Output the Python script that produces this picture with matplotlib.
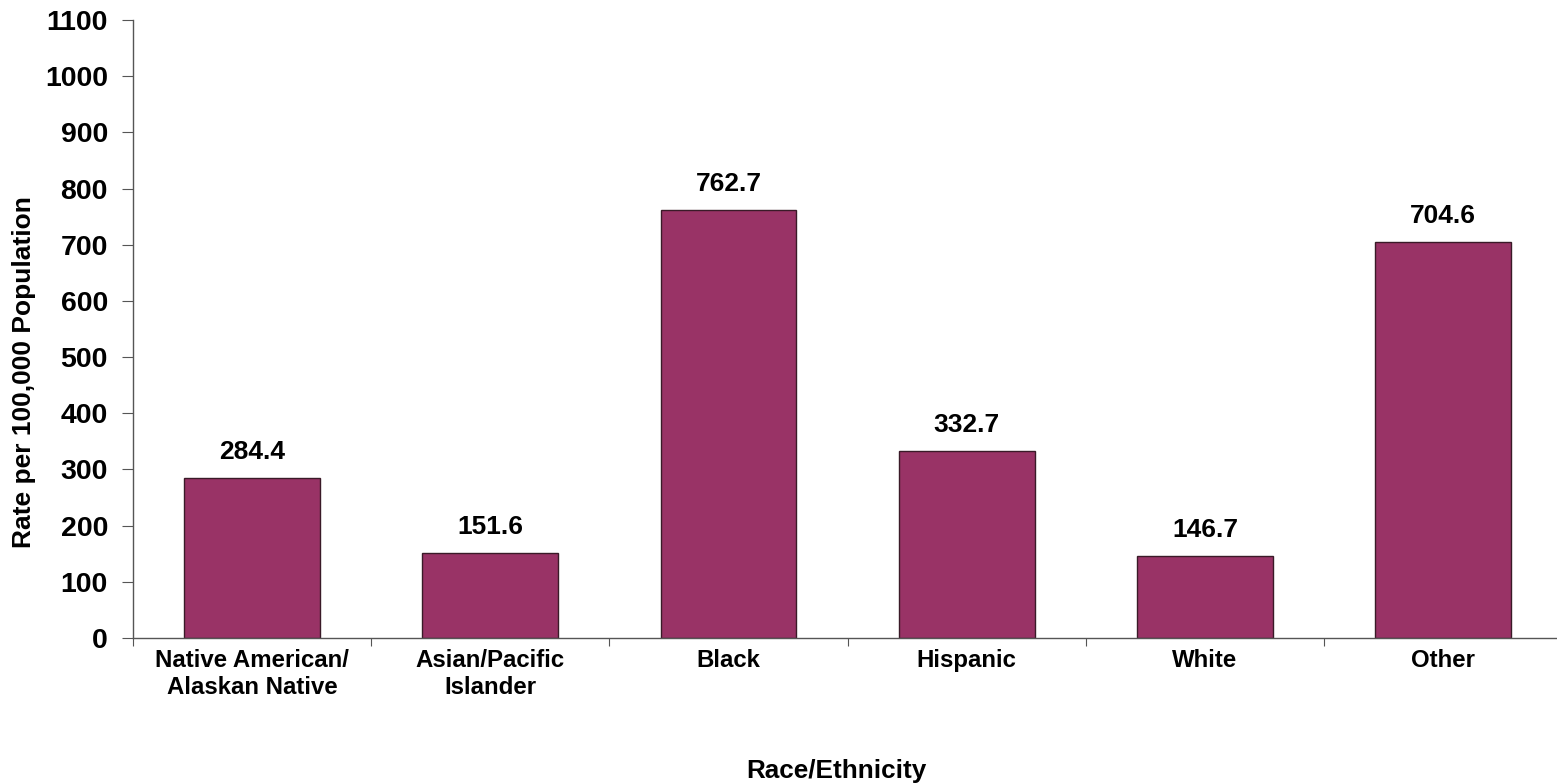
import numpy as np
import matplotlib.pyplot as plt

plt.rcParams['font.family'] = ['Liberation Sans', 'DejaVu Sans']
plt.rcParams['font.weight'] = 'bold'

categories = ["Native American/\nAlaskan Native", "Asian/Pacific\nIslander", "Black",
              "Hispanic", "White", "Other"]
rates = [284.4, 151.6, 762.7, 332.7, 146.7, 704.6]
y_ticks = list(range(0, 1101, 100))

fig = plt.figure(figsize=(15.57, 7.84), dpi=100)
ax = fig.add_axes([0.0854, 0.1862, 0.918, 0.7883])

x = np.arange(len(categories))
ax.bar(x, rates, width=0.57, color="#993366", edgecolor="#3a1a28", linewidth=1.0)

for xi, v in zip(x, rates):
    ax.annotate(f"{v:.1f}", (xi, v), xytext=(0, 10), textcoords="offset points",
                ha="center", va="bottom", fontsize=19, fontweight="bold")

ax.set_xlim(-0.5, len(categories) - 0.5)
ax.set_ylim(0, 1100)
ax.set_yticks(y_ticks)
ax.set_yticklabels([str(t) for t in y_ticks], fontsize=20.5, fontweight="bold")

# category labels centred, tick marks between categories
ax.set_xticks(np.arange(len(categories) + 1) - 0.5)
ax.set_xticklabels([])
ax.set_xticks(x, minor=True)
ax.set_xticklabels(categories, minor=True, fontsize=17.3, fontweight="bold")
ax.tick_params(axis="x", which="minor", length=0, pad=8)
ax.tick_params(axis="x", which="major", length=6, direction="out", color="#555555")
ax.tick_params(axis="y", length=8, direction="out", color="#555555", pad=10)

for s in ["top", "right"]:
    ax.spines[s].set_visible(False)
for s in ["left", "bottom"]:
    ax.spines[s].set_color("#555555")
    ax.spines[s].set_linewidth(1.0)

fig.text(0.0151, 0.5255, "Rate per 100,000 Population", rotation=90, ha="center", va="center",
         fontsize=19, fontweight="bold")
fig.text(0.537, 1 - 778 / 784, "Race/Ethnicity", ha="center", va="baseline",
         fontsize=18.8, fontweight="bold")

fig.savefig("out.png", dpi=100)
